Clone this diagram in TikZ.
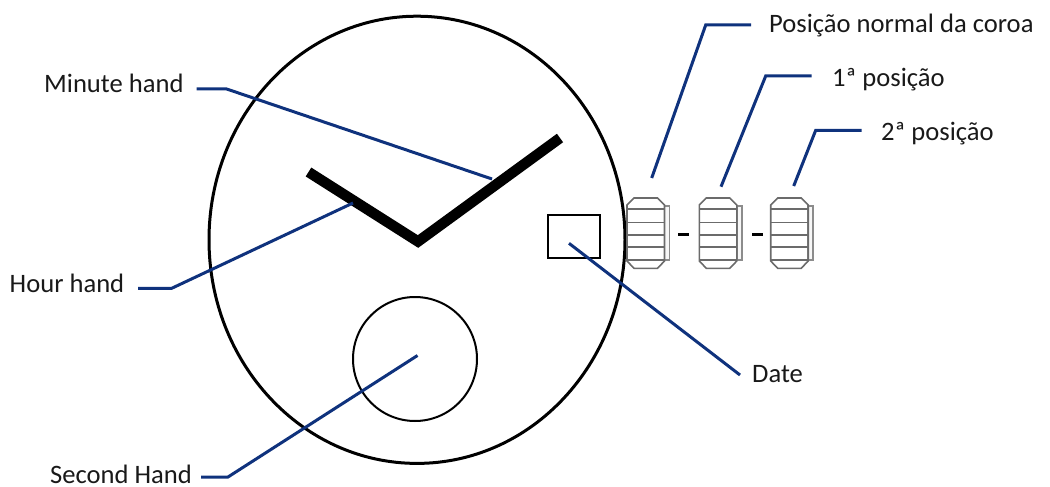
\documentclass[tikz,border=0pt]{standalone}
\usepackage{fontspec}
\setmainfont{Carlito}
\tikzset{
  px/.style={x=1pt,y=-1pt},
  lead/.style={draw=leadblue,line width=3pt,line join=miter},
  lab/.style={inner sep=0pt,font=\fontsize{26.6}{30}\selectfont,text=black!90,anchor=base west},
  outline/.style={draw=black,line width=3pt},
  thin box/.style={draw=black,line width=2pt},
  crownline/.style={draw=black!58,line width=1.6pt},
  crownside/.style={draw=black!45,line width=1.5pt,fill=black!3},
  hand/.style={draw=black,line width=10.5pt,line join=miter},
  dashmark/.style={draw=black,line width=2.4pt},
}
\definecolor{leadblue}{RGB}{15,50,125}
\newcommand{\crown}[1]{%
  \begin{scope}[shift={(#1,0)}]
    \draw[crownside] (37.5,206) rectangle (42.5,260);
    \draw[crownline] (0,205) -- (7,198) -- (30.5,198) -- (37.5,205) -- (37.5,261) -- (30.5,268.3) -- (7,268.3) -- (0,261) -- cycle;
    \foreach \yy in {209,222.3,235,246.7,260}{\draw[crownline] (0,\yy) -- (37.5,\yy);}
  \end{scope}}
\begin{document}
\begin{tikzpicture}[px]
\useasboundingbox (0,0) rectangle (1050,487);
\draw[outline] (417,239.8) ellipse [x radius=208,y radius=223.6];
\draw[thin box] (415,359) circle [radius=62];
\node[thin box,rectangle,minimum width=51.6pt,minimum height=43.4pt,inner sep=0pt] (datebox) at (574.2,236.7) {};
\coordinate (hl) at (308.5,172);
\coordinate (hc) at (418,241.5);
\coordinate (hr) at (560,138);
\draw[hand] (hl) -- (hc) -- (hr);
% crowns
\crown{627}
\crown{699.3}
\crown{770.7}
\coordinate (d1a) at (678.3,234.3); \coordinate (d1b) at (689.3,234.3);
\coordinate (d2a) at (752.3,234.3); \coordinate (d2b) at (763.3,234.3);
\draw[dashmark] (d1a) -- (d1b);
\draw[dashmark] (d2a) -- (d2b);
% labels
\node[lab] (minute) at (44,92.7) {Minute hand};
\node[lab] (hour) at (9.5,292) {Hour hand};
\node[lab] (second) at (50,483) {Second Hand};
\node[lab] (date) at (752,382.7) {Date};
\node[lab] (p0) at (769,32.3) {Posição normal da coroa};
\node[lab] (p1) at (832,86) {1ª posição};
\node[lab] (p2) at (881,140) {2ª posição};
% leaders
\coordinate (m1) at (196.7,89); \coordinate (m2) at (226.7,89); \coordinate (m3) at (492,179);
\coordinate (h1) at (138,288.3); \coordinate (h2) at (171.7,288.3); \coordinate (h3) at (353,203);
\coordinate (s1) at (201,477); \coordinate (s2) at (228,477); \coordinate (s3) at (417.5,355.5);
\coordinate (da) at (569,243.3); \coordinate (db) at (740,375);
\coordinate (c1) at (651.7,178); \coordinate (c2) at (705.7,25); \coordinate (c3) at (751,25);
\coordinate (e1) at (721,186.7); \coordinate (e2) at (765.7,76); \coordinate (e3) at (811.7,76);
\coordinate (f1) at (793.7,186); \coordinate (f2) at (815.7,130.3); \coordinate (f3) at (861.7,130.3);
\draw[lead] (m1) -- (m2) -- (m3);
\draw[lead] (h1) -- (h2) -- (h3);
\draw[lead] (s1) -- (s2) -- (s3);
\draw[lead] (da) -- (db);
\draw[lead] (c1) -- (c2) -- (c3);
\draw[lead] (e1) -- (e2) -- (e3);
\draw[lead] (f1) -- (f2) -- (f3);
\end{tikzpicture}
\end{document}
